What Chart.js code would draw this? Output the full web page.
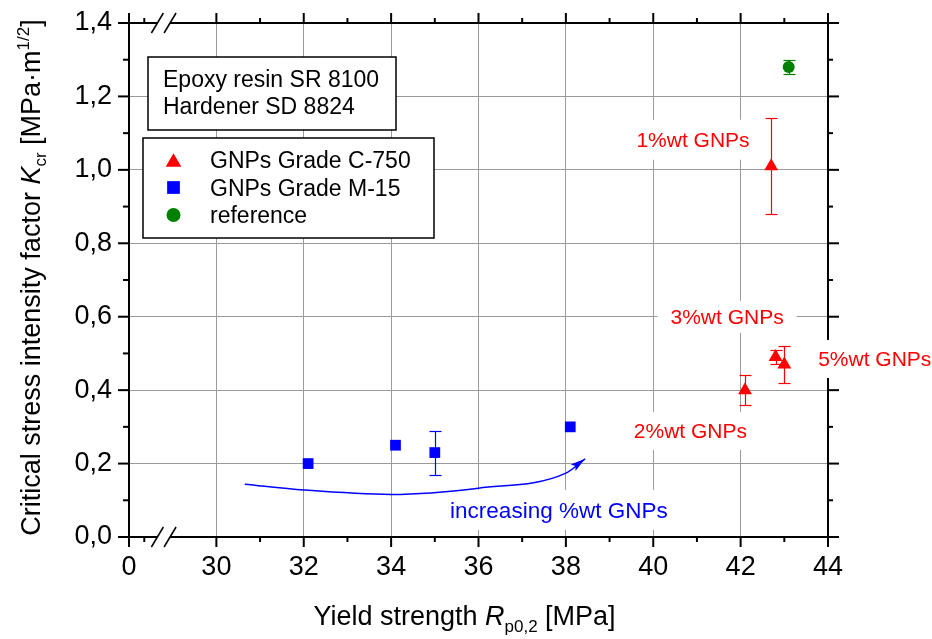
<!DOCTYPE html>
<html>
<head>
<meta charset="utf-8">
<script src="https://cdn.jsdelivr.net/npm/chart.js@4.4.1/dist/chart.umd.min.js"></script>
<style>
  html, body { margin: 0; padding: 0; background: #fff; }
  #wrap { width: 932px; height: 639px; }
</style>
</head>
<body>
<div id="wrap"><canvas id="chart" width="932" height="639"></canvas></div>
<script>
// broken x axis: the tick at 28 stands for 0
const xTicks = [28, 30, 32, 34, 36, 38, 40, 42, 44];
const xTickLabels = ['0', '30', '32', '34', '36', '38', '40', '42', '44'];
const xMinorTicks = [28.35, 31, 33, 35, 37, 39, 41, 43];
const xBreaks = [28.65, 28.94];
const yTicks = [0, 0.2, 0.4, 0.6, 0.8, 1.0, 1.2, 1.4];
const yTickLabels = ['0,0', '0,2', '0,4', '0,6', '0,8', '1,0', '1,2', '1,4'];
const yMinorTicks = [0.1, 0.3, 0.5, 0.7, 0.9, 1.1, 1.3];

// GNPs Grade C-750 (1, 2, 3, 5 %wt)
const c750X = [42.7, 42.1, 42.8, 43.0];
const c750Y = [1.01, 0.40, 0.49, 0.47];
const c750Err = [0.13, 0.04, 0.02, 0.05];
const c750Names = ['1%wt GNPs', '2%wt GNPs', '3%wt GNPs', '5%wt GNPs'];

// GNPs Grade M-15
const m15X = [32.1, 34.1, 35.0, 38.1];
const m15Y = [0.20, 0.25, 0.23, 0.30];
const m15Err = [0, 0, 0.06, 0];

// neat resin
const refX = [43.1];
const refY = [1.28];
const refErr = [0.02];

// the blue "increasing" arrow
const arrowX = [30.65, 32.0, 34.0, 36.0, 38.0, 38.44];
const arrowY = [0.144, 0.128, 0.116, 0.133, 0.174, 0.213];

const seriesNames = ['GNPs Grade C-750', 'GNPs Grade M-15', 'reference'];
const boxLines = ['Epoxy resin SR 8100', 'Hardener SD 8824'];

const FONT = '"Liberation Sans", Arial, Helvetica, sans-serif';
const RED = '#ff0000', BLUE = '#0000ff', GREEN = '#008000';
const seriesColors = [RED, BLUE, GREEN];
const seriesErr = [c750Err, m15Err, refErr];

// text labels placed in data coordinates (centre of the text)
const notes = [
    { text: c750Names[0], x: 40.91, y: 1.082, color: RED, size: 21, h: 40 },
    { text: c750Names[1], x: 40.85, y: 0.289, color: RED, size: 21, h: 38 },
    { text: c750Names[2], x: 41.69, y: 0.600, color: RED, size: 21, h: 32 },
    { text: c750Names[3], x: 45.07, y: 0.485, color: RED, size: 21, h: 38, late: true },
    { text: 'increasing %wt GNPs', x: 37.84, y: 0.0736, color: BLUE, size: 22.5, h: 40 }
];

function pts(xs, ys) {
    return xs.map((x, i) => ({ x: x, y: ys[i] }));
}

function seg(ctx, x1, y1, x2, y2) {
    ctx.beginPath();
    ctx.moveTo(x1, y1);
    ctx.lineTo(x2, y2);
    ctx.stroke();
}

// draws text made of parts (italic, sub/superscript)
function richText(ctx, parts, x, y, measureOnly) {
    let cx = x;
    parts.forEach(p => {
        ctx.font = (p.italic ? 'italic ' : '') + p.size + 'px ' + FONT;
        if (!measureOnly) ctx.fillText(p.t, cx, y + (p.dy || 0));
        cx += ctx.measureText(p.t).width;
    });
    return cx - x;
}

function drawNote(chart, n) {
    const ctx = chart.ctx;
    const px = chart.scales.x.getPixelForValue(n.x);
    const py = chart.scales.y.getPixelForValue(n.y);
    ctx.save();
    ctx.font = n.size + 'px ' + FONT;
    const w = ctx.measureText(n.text).width;
    ctx.fillStyle = '#fff';
    ctx.fillRect(px - w / 2 - 13, py - n.h / 2, w + 26, n.h);
    ctx.fillStyle = n.color;
    ctx.textAlign = 'center';
    ctx.textBaseline = 'alphabetic';
    ctx.fillText(n.text, px, py + n.size * 0.36);
    ctx.restore();
}

const decorPlugin = {
    id: 'decor',
    beforeDatasetsDraw(chart) {
        const ctx = chart.ctx, xs = chart.scales.x, ys = chart.scales.y;
        notes.filter(n => !n.late).forEach(n => drawNote(chart, n));
        // error bars
        seriesErr.forEach((errs, k) => {
            const ds = chart.data.datasets[k];
            ctx.save();
            ctx.strokeStyle = seriesColors[k];
            ctx.lineWidth = 1.2;
            ds.data.forEach((p, i) => {
                const e = errs[i];
                if (!e) return;
                const px = Math.round(xs.getPixelForValue(p.x)) + 0.5;
                const top = Math.round(ys.getPixelForValue(p.y + e)) + 0.5;
                const bot = Math.round(ys.getPixelForValue(p.y - e)) + 0.5;
                seg(ctx, px, top, px, bot);
                seg(ctx, px - 6, top, px + 6, top);
                seg(ctx, px - 6, bot, px + 6, bot);
            });
            ctx.restore();
        });
    },
    afterDatasetsDraw(chart) {
        // arrow head at the end of the blue curve
        const ctx = chart.ctx, xs = chart.scales.x, ys = chart.scales.y;
        const n = arrowX.length;
        const x1 = xs.getPixelForValue(arrowX[n - 2]), y1 = ys.getPixelForValue(arrowY[n - 2]);
        const x2 = xs.getPixelForValue(arrowX[n - 1]), y2 = ys.getPixelForValue(arrowY[n - 1]);
        const a = Math.atan2(y2 - y1, x2 - x1);
        ctx.save();
        ctx.translate(x2, y2);
        ctx.rotate(a);
        ctx.fillStyle = BLUE;
        ctx.beginPath();
        ctx.moveTo(0, 0);
        ctx.lineTo(-15, -4);
        ctx.lineTo(-12, 0);
        ctx.lineTo(-15, 4);
        ctx.closePath();
        ctx.fill();
        ctx.restore();
    },
    afterDraw(chart) {
        const ctx = chart.ctx, xs = chart.scales.x, ys = chart.scales.y;
        const ca = chart.chartArea;
        const L = ca.left, R = ca.right, T = ca.top, B = ca.bottom;
        ctx.save();
        ctx.strokeStyle = '#000';
        ctx.lineWidth = 2;
        ctx.strokeRect(L, T, R - L, B - T);
        // ticks, all pointing outward
        xTicks.forEach(v => {
            const px = xs.getPixelForValue(v);
            seg(ctx, px, B, px, B + 10);
            seg(ctx, px, T, px, T - 10);
        });
        xMinorTicks.forEach(v => {
            const px = xs.getPixelForValue(v);
            seg(ctx, px, B, px, B + 5);
            seg(ctx, px, T, px, T - 5);
        });
        yTicks.forEach(v => {
            const py = ys.getPixelForValue(v);
            seg(ctx, L, py, L - 11, py);
            seg(ctx, R, py, R + 11, py);
        });
        yMinorTicks.forEach(v => {
            const py = ys.getPixelForValue(v);
            seg(ctx, L, py, L - 6, py);
            seg(ctx, R, py, R + 5, py);
        });
        // axis break marks
        const b1 = xs.getPixelForValue(xBreaks[0]), b2 = xs.getPixelForValue(xBreaks[1]);
        ctx.fillStyle = '#fff';
        [T, B].forEach(yy => {
            ctx.fillRect(b1, yy - 2, b2 - b1, 4);
            ctx.lineWidth = 1.5;
            [b1, b2].forEach(bx => seg(ctx, bx - 6, yy + 10, bx + 6, yy - 10));
        });
        ctx.restore();

        notes.filter(n => n.late).forEach(n => drawNote(chart, n));

        // text box with the resin system
        ctx.save();
        ctx.fillStyle = '#fff';
        ctx.strokeStyle = '#000';
        ctx.lineWidth = 1.5;
        ctx.fillRect(L + 19, T + 34, 248, 73);
        ctx.strokeRect(L + 19, T + 34, 248, 73);
        ctx.fillStyle = '#000';
        ctx.font = '23px ' + FONT;
        ctx.textBaseline = 'alphabetic';
        boxLines.forEach((s, i) => ctx.fillText(s, L + 34, T + 63.5 + i * 27.5));

        // legend
        ctx.fillStyle = '#fff';
        ctx.fillRect(L + 14, T + 115, 291, 100);
        ctx.strokeRect(L + 14, T + 115, 291, 100);
        const sizes = [9, 9, 7];
        const offs = [2.3, 0, 0];
        seriesNames.forEach((s, i) => {
            const ds = chart.data.datasets[i];
            const cy = T + 137 + i * 27.5;
            ctx.fillStyle = seriesColors[i];
            Chart.helpers.drawPoint(ctx, { pointStyle: ds.pointStyle, radius: sizes[i], rotation: 0, borderWidth: 0 },
                L + 44.5, cy + offs[i]);
            ctx.fillStyle = '#000';
            ctx.font = '23px ' + FONT;
            ctx.fillText(s, L + 81, cy + 8.3);
        });

        // axis titles
        ctx.fillStyle = '#000';
        const xt = [
            { t: 'Yield strength ', size: 27 },
            { t: 'R', size: 27, italic: true },
            { t: 'p0,2', size: 17, dy: 7 },
            { t: ' [MPa]', size: 27 }
        ];
        const xw = richText(ctx, xt, 0, 0, true);
        richText(ctx, xt, 464.5 - xw / 2, 625);

        const yt = [
            { t: 'Critical stress intensity factor ', size: 27 },
            { t: 'K', size: 27, italic: true },
            { t: 'cr', size: 17, dy: 6 },
            { t: ' [MPa\u00b7m', size: 27 },
            { t: '1/2', size: 17, dy: -11 },
            { t: ']', size: 27 }
        ];
        const yw = richText(ctx, yt, 0, 0, true);
        ctx.translate(39.5, 277.5 + yw / 2);
        ctx.rotate(-Math.PI / 2);
        richText(ctx, yt, 0, 0);
        ctx.restore();
    }
};

const gridColor = '#9a9a9a';

new Chart(document.getElementById('chart'), {
    type: 'scatter',
    data: {
        datasets: [
            {
                label: seriesNames[0],
                data: pts(c750X, c750Y),
                pointStyle: 'triangle',
                pointRadius: 8,
                backgroundColor: RED,
                borderColor: RED,
                pointBorderWidth: 0
            },
            {
                label: seriesNames[1],
                data: pts(m15X, m15Y),
                pointStyle: 'rect',
                pointRadius: 7.6,
                backgroundColor: BLUE,
                borderColor: BLUE,
                pointBorderWidth: 0
            },
            {
                label: seriesNames[2],
                data: pts(refX, refY),
                pointStyle: 'circle',
                pointRadius: 6,
                backgroundColor: GREEN,
                borderColor: GREEN,
                pointBorderWidth: 0
            },
            {
                label: 'arrow',
                data: pts(arrowX, arrowY),
                showLine: true,
                cubicInterpolationMode: 'monotone',
                pointRadius: 0,
                borderColor: BLUE,
                borderWidth: 1.5,
                backgroundColor: BLUE
            }
        ]
    },
    options: {
        responsive: false,
        animation: false,
        devicePixelRatio: 1,
        layout: { padding: { top: 23, right: 104, left: 0, bottom: 0 } },
        plugins: {
            legend: { display: false },
            tooltip: { enabled: false }
        },
        scales: {
            x: {
                type: 'linear',
                min: 28,
                max: 44,
                afterBuildTicks: s => { s.ticks = xTicks.map(v => ({ value: v })); },
                afterFit: s => { s.height = 102; s.paddingLeft = 0; s.paddingRight = 0; },
                border: { display: false },
                grid: {
                    drawTicks: false,
                    lineWidth: 1,
                    color: c => (c.tick && (c.tick.value === 28 || c.tick.value === 44)) ? 'rgba(0,0,0,0)' : gridColor
                },
                ticks: {
                    autoSkip: false,
                    maxRotation: 0,
                    padding: 14,
                    color: '#000',
                    font: { family: FONT, size: 27 },
                    callback: v => xTickLabels[xTicks.indexOf(v)]
                }
            },
            y: {
                min: 0,
                max: 1.4,
                afterBuildTicks: s => { s.ticks = yTicks.map(v => ({ value: v })); },
                afterFit: s => { s.width = 129; s.paddingTop = 0; s.paddingBottom = 0; },
                border: { display: false },
                grid: {
                    drawTicks: false,
                    lineWidth: 1,
                    color: c => (c.tick && (c.tick.value === 0 || c.tick.value === 1.4)) ? 'rgba(0,0,0,0)' : gridColor
                },
                ticks: {
                    autoSkip: false,
                    padding: 17,
                    color: '#000',
                    font: { family: FONT, size: 27 },
                    callback: v => yTickLabels[yTicks.findIndex(t => Math.abs(t - v) < 1e-9)]
                }
            }
        }
    },
    plugins: [decorPlugin]
});
</script>
</body>
</html>
